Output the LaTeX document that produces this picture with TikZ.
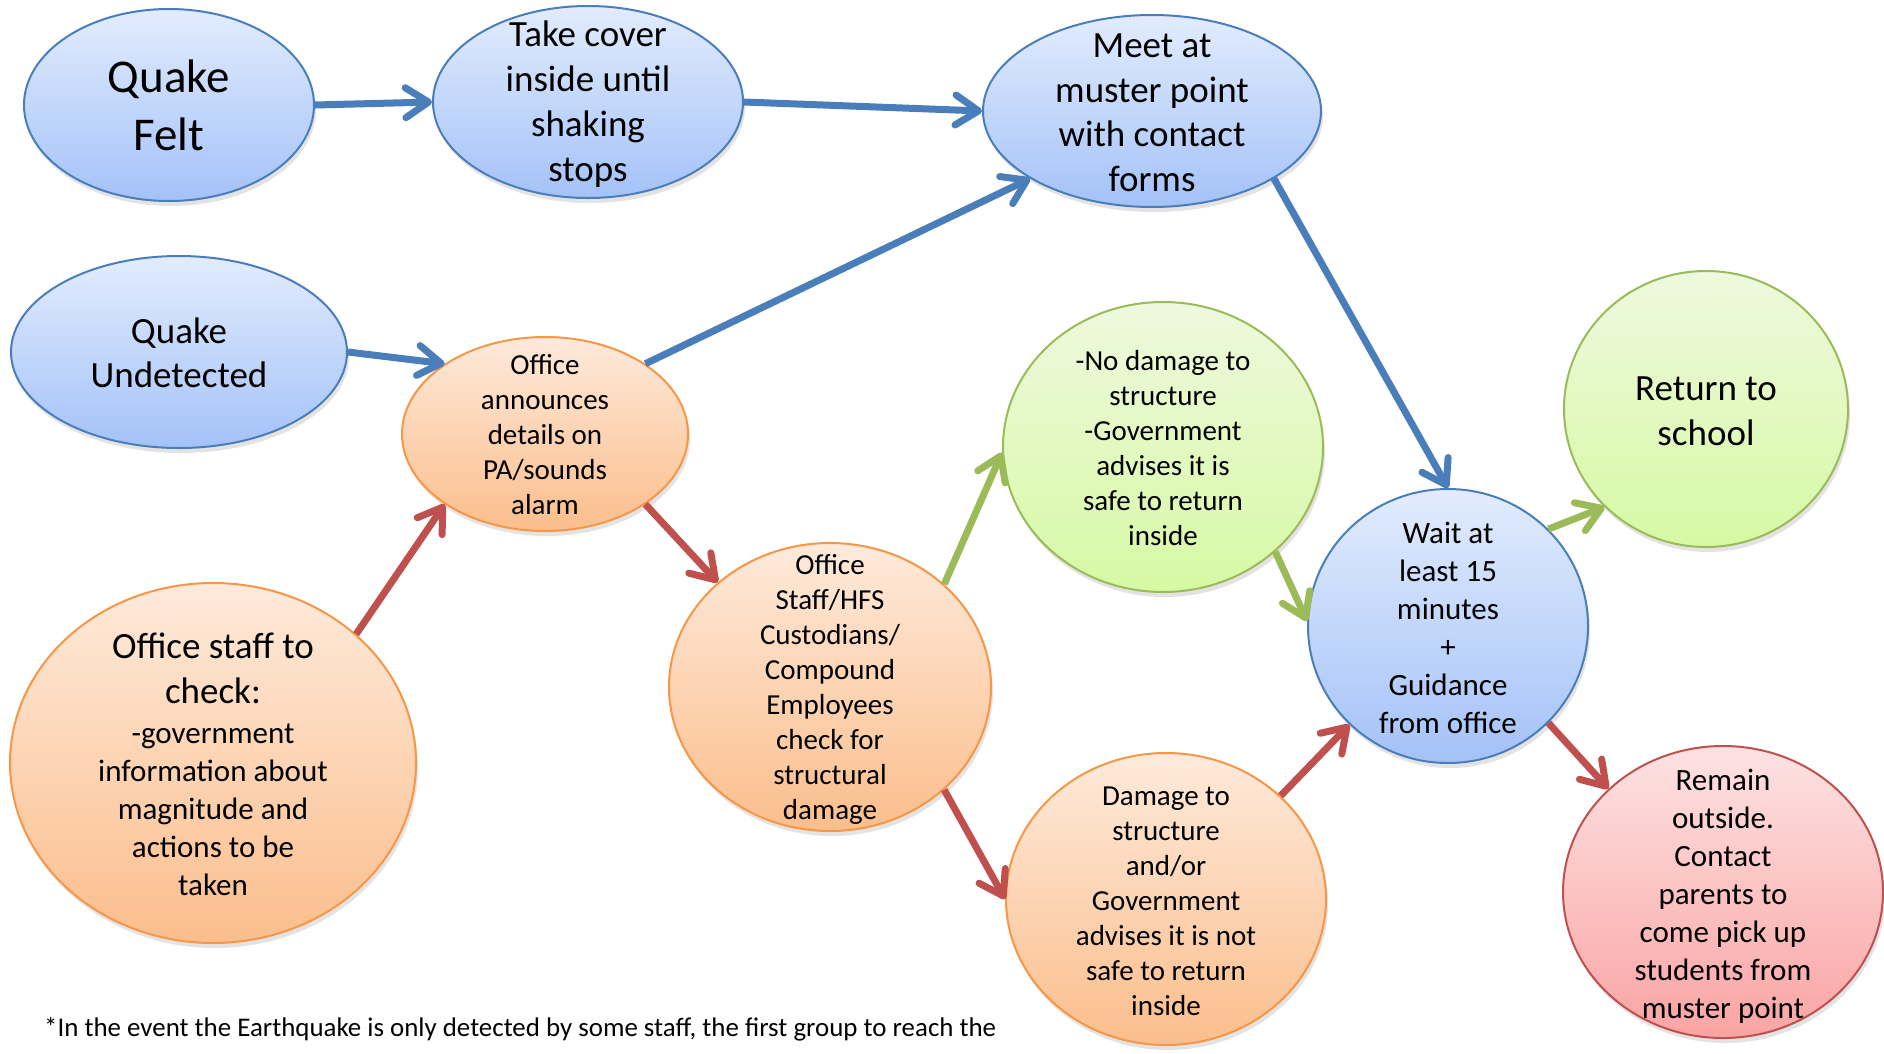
\documentclass[tikz,border=0pt]{standalone}
\usepackage{fontspec}
\setmainfont{Carlito}
\usetikzlibrary{shapes.geometric,arrows.meta,shadows}
\definecolor{bline}{HTML}{4A7EBB}
\definecolor{btop}{HTML}{E2ECFD}
\definecolor{bbot}{HTML}{A4C2F8}
\definecolor{oline}{HTML}{F79646}
\definecolor{otop}{HTML}{FEEADB}
\definecolor{obot}{HTML}{FBBE8C}
\definecolor{gline}{HTML}{9BBB59}
\definecolor{gtop}{HTML}{EEF9DE}
\definecolor{gbot}{HTML}{D6F9A4}
\definecolor{rline}{HTML}{C0504D}
\definecolor{rtop}{HTML}{FDE2E2}
\definecolor{rbot}{HTML}{FAA4A4}
\newcommand{\fs}[2]{\fontsize{#1}{#2}\selectfont}
\begin{document}
\begin{tikzpicture}[x=1pt,y=-1pt,
	bub/.style={ellipse,line width=2pt,inner sep=0pt,
		drop shadow={shadow xshift=2pt,shadow yshift=-5pt,opacity=0.22}},
	bluebub/.style={bub,draw=bline,top color=btop,bottom color=bbot},
	orangebub/.style={bub,draw=oline,top color=otop,bottom color=obot},
	greenbub/.style={bub,draw=gline,top color=gtop,bottom color=gbot},
	redbub/.style={bub,draw=rline,top color=rtop,bottom color=rbot},
	sz/.style 2 args={minimum width=#1,minimum height=#2},
	txt/.style={align=center,inner sep=0pt},
	go/.style={line width=7pt,-{Straight Barb[length=23pt,width=30pt,round]}}]
	\useasboundingbox (0,0) rectangle (1884,1053);
	% top row
	\node[bluebub,sz={290}{192}] (felt) at (169,105) {};
	\node[txt,font=\fs{47}{58}] (felt text) at (felt) {Quake\\Felt};
	\node[bluebub,sz={310}{192}] (cover) at (588,102) {};
	\node[txt,font=\fs{37}{45}] (cover text) at ([yshift=-2]cover.center) {Take cover\\inside until\\shaking\\stops};
	\node[bluebub,sz={338}{192}] (meet) at (1152,111) {};
	\node[txt,font=\fs{37}{44.5}] (meet text) at ([yshift=-2]meet.center) {Meet at\\muster point\\with contact\\forms};
	% undetected branch
	\node[bluebub,sz={336}{192}] (undet) at (179,352) {};
	\node[txt,font=\fs{37}{44.5}] (undet text) at ([yshift=-1]undet.center) {Quake\\Undetected};
	\node[orangebub,sz={286}{194}] (announce) at (545,434) {};
	\node[txt,font=\fs{29}{35}] (announce text) at ([yshift=-1]announce.center) {Office\\announces\\details on\\PA/sounds\\alarm};
	\node[orangebub,sz={406}{360}] (check) at (213,763) {};
	\node[txt,font=\fs{31}{38}] (check text) at ([yshift=-1]check.center)
		{{\fs{37}{45}Office staff to}\\[7pt]{\fs{37}{45}check:}\\[2pt]-government\\information about\\magnitude and\\actions to be\\taken};
	\node[orangebub,sz={322}{288}] (hfs) at (830,687) {};
	\node[txt,font=\fs{29}{35}] (hfs text) at ([yshift=-2]hfs.center) {Office\\Staff/HFS\\Custodians/\\Compound\\Employees\\check for\\structural\\damage};
	% outcomes
	\node[greenbub,sz={320}{290}] (safe) at (1163,447) {};
	\node[txt,font=\fs{29}{35}] (safe text) at ([yshift=-1]safe.center) {-No damage to\\structure\\-Government\\advises it is\\safe to return\\inside};
	\node[orangebub,sz={320}{292}] (unsafe) at (1166,899) {};
	\node[txt,font=\fs{29}{35}] (unsafe text) at ([yshift=-2]unsafe.center) {Damage to\\structure\\and/or\\Government\\advises it is not\\safe to return\\inside};
	\node[bluebub,sz={280}{274}] (wait) at (1448,626) {};
	\node[txt,font=\fs{31}{38}] (wait text) at ([yshift=-2]wait.center) {Wait at\\least 15\\minutes\\+\\Guidance\\from office};
	\node[greenbub,sz={284}{276}] (back) at (1706,409) {};
	\node[txt,font=\fs{37}{45}] (back text) at ([yshift=-2]back.center) {Return to\\school};
	\node[redbub,sz={320}{292}] (remain) at (1723,892) {};
	\node[txt,font=\fs{31}{38}] (remain text) at ([yshift=-4]remain.center) {Remain\\outside.\\Contact\\parents to\\come pick up\\students from\\muster point};
	% connectors
	\draw[go,bline] (felt.east) -- (cover.west);
	\draw[go,bline] (cover.east) -- (meet.west);
	\draw[go,bline] (undet.east) -- (announce.145);
	\draw[go,bline] (announce.35) -- (meet.209);
	\draw[go,bline] (meet.331) -- (wait.north);
	\draw[go,rline] (check.42) -- (announce.215);
	\draw[go,rline] (announce.325) -- (hfs.137);
	\draw[go,gline] (hfs.42) -- (safe.182);
	\draw[go,rline] (hfs.318) -- (unsafe.180);
	\draw[go,gline] (safe.317) -- (wait.178);
	\draw[go,rline] (unsafe.42) -- (wait.225);
	\draw[go,gline] (wait.44) -- (back.224);
	\draw[go,rline] (wait.316) -- (remain.138);
	\node[anchor=base west,inner sep=0pt,font=\fs{26.9}{32}] (note) at (44,1036)
		{*In the event the Earthquake is only detected by some staff, the first group to reach the};
\end{tikzpicture}
\end{document}
